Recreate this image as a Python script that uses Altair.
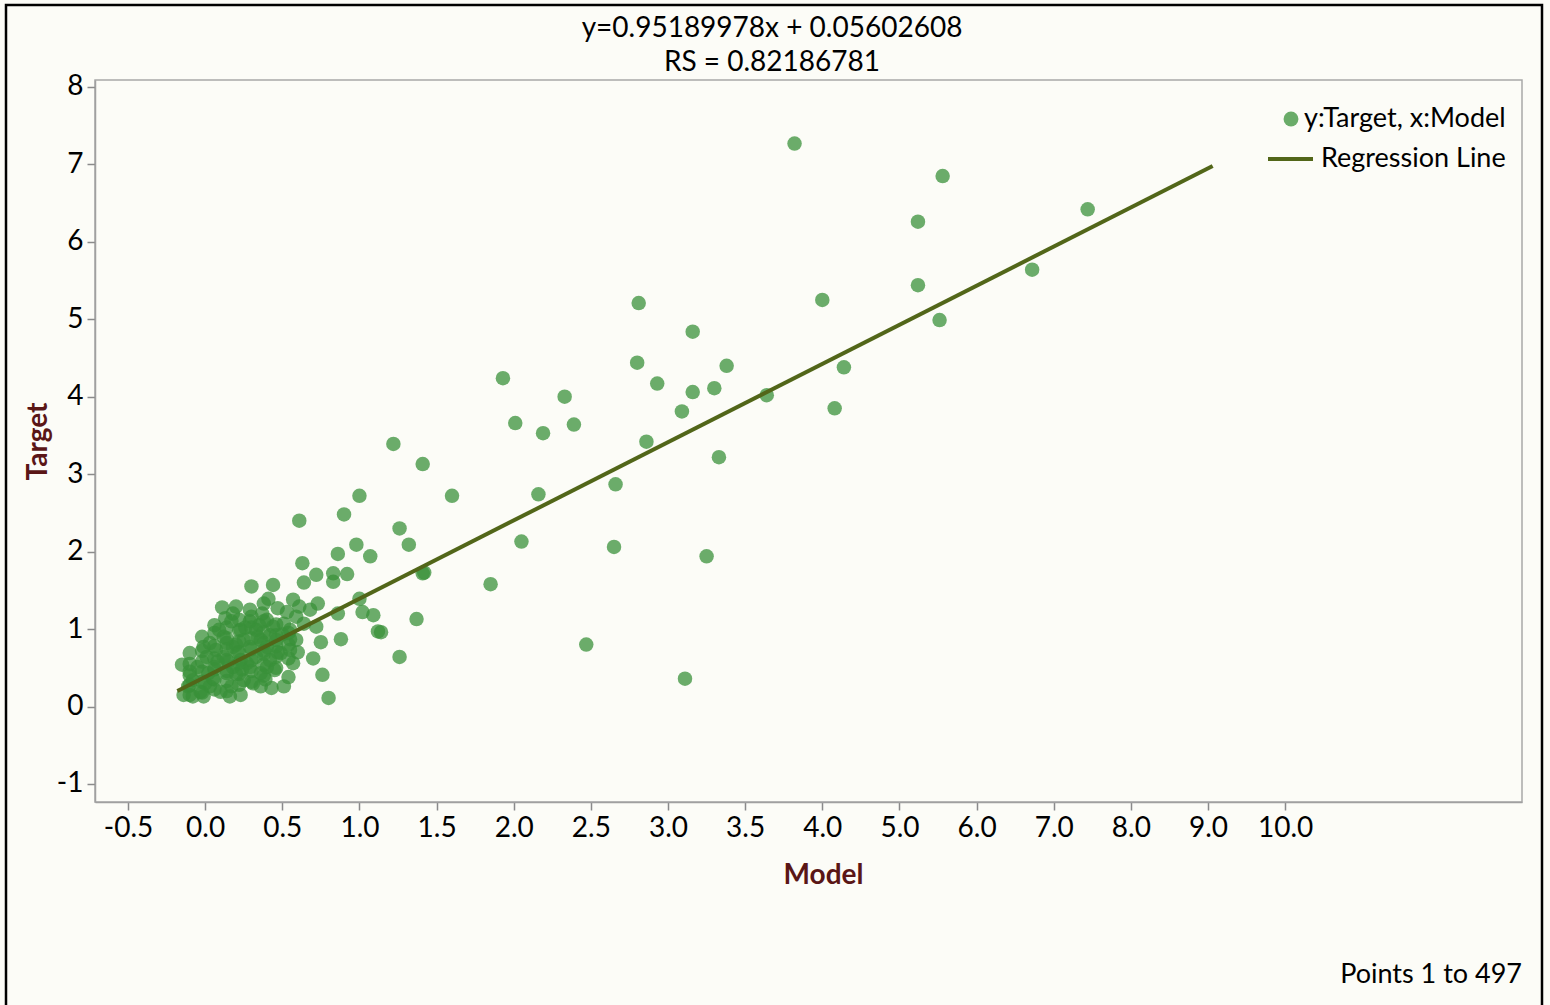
import altair as alt
import pandas as pd

# ---- data (x in axis position units; labels remapped below) ----
model = [
    3.82, 4.78, 4.62, 5.72, 4.62, 5.36, 4.76, 4.00, 2.81, 3.16,
    2.80, 3.38, 4.14, 2.93, 3.16, 3.30, 3.64, 3.09, 4.08, 3.33,
    2.33, 2.39, 2.86, 2.66, 2.65, 3.25, 2.47, 3.11, 1.93, 2.01,
    2.19, 1.22, 1.41, 1.00, 1.60, 2.16, 0.61, 0.90, 1.26, 1.32,
    0.98, 1.07, 2.05, 0.63, 0.86, 0.72, 0.83, 0.92, 0.64, 0.83,
    1.42, 1.41, 1.85, 0.30, 0.44, 0.41, 0.57, 0.73, 1.00, 1.02,
    1.09, 0.86, 1.12, 1.14, 1.37, 0.72, 0.88, 0.75, 1.26, 0.70,
    0.76, 0.80, 0.55, 0.54, 0.43,
    -0.14, -0.15, -0.10, -0.02, 0.11, 0.18, 0.09, 0.17, 0.29, 0.37,
    0.47, 0.53, 0.68, 0.23, 0.10, -0.03, -0.08, 0.02, 0.14, 0.25,
    0.36, 0.42, 0.33, 0.23, 0.12, 0.01, 0.03, 0.14, 0.25, 0.36,
    0.46, 0.55, 0.44, 0.33, 0.23, 0.59, 0.51, 0.40, 0.29, 0.49,
    0.57, 0.51, 0.36, 0.17, 0.03, -0.11, -0.05, 0.06, 0.18, 0.29,
    0.40, -0.01, 0.07, 0.18, 0.29, 0.40, 0.59, 0.64, 0.61, 0.38,
    -0.08, -0.01, 0.16, 0.13, 0.20,
    -0.10, 0.05, 0.08, 0.20, 0.21, 0.27, 0.31, 0.34, 0.39, 0.45,
    0.47, 0.50, 0.12, 0.00, 0.20, 0.26, 0.06, 0.35, 0.42, 0.55,
    0.60, 0.15, 0.38, 0.24,
    # dense core of the cloud
    -0.10, -0.10, -0.10, -0.10,
    -0.02, -0.02, -0.02, -0.02, -0.02,
    0.06, 0.06, 0.06, 0.06, 0.06, 0.06,
    0.14, 0.14, 0.14, 0.14, 0.14, 0.14, 0.14,
    0.22, 0.22, 0.22, 0.22, 0.22, 0.22, 0.22,
    0.30, 0.30, 0.30, 0.30, 0.30, 0.30, 0.30,
    0.38, 0.38, 0.38, 0.38, 0.38, 0.38,
    0.46, 0.46, 0.46, 0.46, 0.46,
    0.54, 0.54, 0.54,
]
target = [
    7.27, 6.85, 6.26, 6.42, 5.44, 5.64, 4.99, 5.25, 5.21, 4.84,
    4.44, 4.40, 4.38, 4.17, 4.06, 4.11, 4.02, 3.81, 3.85, 3.22,
    4.00, 3.64, 3.42, 2.87, 2.06, 1.94, 0.80, 0.36, 4.24, 3.66,
    3.53, 3.39, 3.13, 2.72, 2.72, 2.74, 2.40, 2.48, 2.30, 2.09,
    2.09, 1.94, 2.13, 1.85, 1.97, 1.70, 1.72, 1.71, 1.60, 1.61,
    1.73, 1.72, 1.58, 1.55, 1.57, 1.39, 1.38, 1.33, 1.39, 1.22,
    1.18, 1.20, 0.97, 0.96, 1.13, 1.03, 0.87, 0.83, 0.64, 0.62,
    0.41, 0.11, 0.73, 0.38, 0.24,
    0.15, 0.54, 0.69, 0.90, 1.28, 1.20, 0.99, 1.10, 1.10, 1.20,
    1.27, 1.22, 1.25, 0.15, 0.19, 0.19, 0.34, 0.43, 0.43, 0.34,
    0.43, 0.60, 0.64, 0.60, 0.64, 0.64, 0.82, 0.82, 0.86, 0.86,
    0.86, 0.99, 1.03, 0.99, 0.99, 1.16, 1.07, 1.12, 1.25, 0.69,
    0.56, 0.26, 0.26, 0.26, 0.26, 0.26, 0.51, 0.51, 0.51, 0.51,
    0.51, 0.77, 0.73, 0.77, 0.77, 0.77, 0.86, 1.07, 1.29, 1.33,
    0.13, 0.13, 0.13, 1.14, 1.29,
    0.45, 0.36, 0.58, 0.42, 0.70, 0.56, 0.30, 0.90, 0.35, 0.47,
    0.70, 0.93, 0.90, 0.30, 0.80, 1.02, 1.05, 1.05, 0.92, 0.87,
    0.70, 0.58, 0.72, 0.48,
    # dense core of the cloud
    0.15, 0.28, 0.40, 0.55,
    0.18, 0.32, 0.45, 0.58, 0.72,
    0.22, 0.35, 0.48, 0.62, 0.78, 0.95,
    0.20, 0.33, 0.46, 0.60, 0.74, 0.88, 1.02,
    0.28, 0.42, 0.56, 0.70, 0.84, 0.98, 1.12,
    0.32, 0.46, 0.60, 0.74, 0.88, 1.02, 1.16,
    0.40, 0.54, 0.68, 0.82, 0.96, 1.10,
    0.50, 0.64, 0.78, 0.92, 1.06,
    0.62, 0.80, 0.95,
]

line_x = [-0.18, 6.53]
line_y = [0.20, 6.98]

x_tick_values = [-0.5, 0.0, 0.5, 1.0, 1.5, 2.0, 2.5, 3.0, 3.5, 4.0, 4.5, 5.0, 5.5, 6.0, 6.5, 7.0]
x_tick_labels = ["-0.5", "0.0", "0.5", "1.0", "1.5", "2.0", "2.5", "3.0", "3.5", "4.0",
                 "5.0", "6.0", "7.0", "8.0", "9.0", "10.0"]
y_tick_values = [-1, 0, 1, 2, 3, 4, 5, 6, 7, 8]

title_lines = ["y=0.95189978x + 0.05602608", "RS = 0.82186781"]
legend_labels = ["y:Target, x:Model", "Regression Line"]
footer = "Points 1 to 497"

# ---- styling ----
FONT = "Lato"
BG = "#fcfcf7"
PT_COLOR = "#399139"
LINE_COLOR = "#526619"
AXIS_TITLE_COLOR = "#5a1616"

W, H = 1427, 722

points_df = pd.DataFrame({"Model": model, "Target": target})
line_df = pd.DataFrame({"Model": line_x, "Target": line_y})

label_expr = "[" + ",".join("'" + s + "'" for s in x_tick_labels) + "][round(datum.value*2+1)]"

x_scale = alt.Scale(domain=[-0.714, 8.535], nice=False, zero=False)
y_scale = alt.Scale(domain=[-1.233, 8.09], nice=False, zero=False)

x_axis = alt.Axis(
    values=x_tick_values, labelExpr=label_expr, grid=False,
    labelFont=FONT, labelFontSize=28, labelColor="black", labelPadding=4, labelFlush=False,
    tickColor="#8a8a8a", tickSize=8, tickWidth=1.5,
    domainColor="#a0a0a0", domainWidth=1.5,
    title="Model", titleFont=FONT, titleFontSize=28, titleFontWeight="bold",
    titleColor=AXIS_TITLE_COLOR, titleX=728, titleY=73, titleBaseline="middle",
    titleAlign="center",
)
y_axis = alt.Axis(
    values=y_tick_values, labelExpr="'' + datum.value", grid=False,
    labelFont=FONT, labelFontSize=28, labelColor="black", labelPadding=4,
    tickColor="#8a8a8a", tickSize=8, tickWidth=1.5,
    domainColor="#a0a0a0", domainWidth=1.5,
    title="Target", titleFont=FONT, titleFontSize=28, titleFontWeight="bold",
    titleColor=AXIS_TITLE_COLOR, titleX=-57, titleY=361, titleAngle=270,
    titleBaseline="middle", titleAlign="center",
)

one = pd.DataFrame({"k": [0]})

frame = alt.Chart(one).mark_rect(fill="transparent", stroke="black", strokeWidth=2.5).encode(
    x=alt.value(-89), x2=alt.value(1447), y=alt.value(-75), y2=alt.value(1000)
)

points = alt.Chart(points_df).mark_circle(size=210, color=PT_COLOR, opacity=0.74).encode(
    x=alt.X("Model:Q", scale=x_scale, axis=x_axis),
    y=alt.Y("Target:Q", scale=y_scale, axis=y_axis),
)

reg = alt.Chart(line_df).mark_line(color=LINE_COLOR, strokeWidth=4).encode(
    x=alt.X("Model:Q", scale=x_scale),
    y=alt.Y("Target:Q", scale=y_scale),
)

title1 = alt.Chart(one).mark_text(
    text=title_lines[0], font=FONT, fontSize=28, align="center", baseline="middle", color="black"
).encode(x=alt.value(677), y=alt.value(-51))
title2 = alt.Chart(one).mark_text(
    text=title_lines[1], font=FONT, fontSize=28, align="center", baseline="middle", color="black"
).encode(x=alt.value(677), y=alt.value(-17))

leg_pt = alt.Chart(one).mark_circle(size=220, color=PT_COLOR, opacity=0.75).encode(
    x=alt.value(1196), y=alt.value(39)
)
leg_txt1 = alt.Chart(one).mark_text(
    text=legend_labels[0], font=FONT, fontSize=27, align="left", baseline="middle", color="black"
).encode(x=alt.value(1209), y=alt.value(39))
leg_line = alt.Chart(one).mark_rule(color=LINE_COLOR, strokeWidth=4).encode(
    x=alt.value(1173), x2=alt.value(1218), y=alt.value(79)
)
leg_txt2 = alt.Chart(one).mark_text(
    text=legend_labels[1], font=FONT, fontSize=27, align="left", baseline="middle", color="black"
).encode(x=alt.value(1226), y=alt.value(79))

foot = alt.Chart(one).mark_text(
    text=footer, font=FONT, fontSize=27, align="right", baseline="middle", color="black"
).encode(x=alt.value(1427), y=alt.value(895))

chart = alt.layer(frame, points, reg, title1, title2, leg_pt, leg_txt1, leg_line, leg_txt2, foot).properties(
    width=W, height=H,
    padding={"left": 95, "top": 80, "right": 28, "bottom": 203},
    autosize=alt.AutoSizeParams(type="none"),
).configure(background=BG).configure_view(stroke="#a8a8a8", strokeWidth=1.5, fill=BG)

chart.save("out.html", embed_options={"renderer": "svg", "actions": False})
